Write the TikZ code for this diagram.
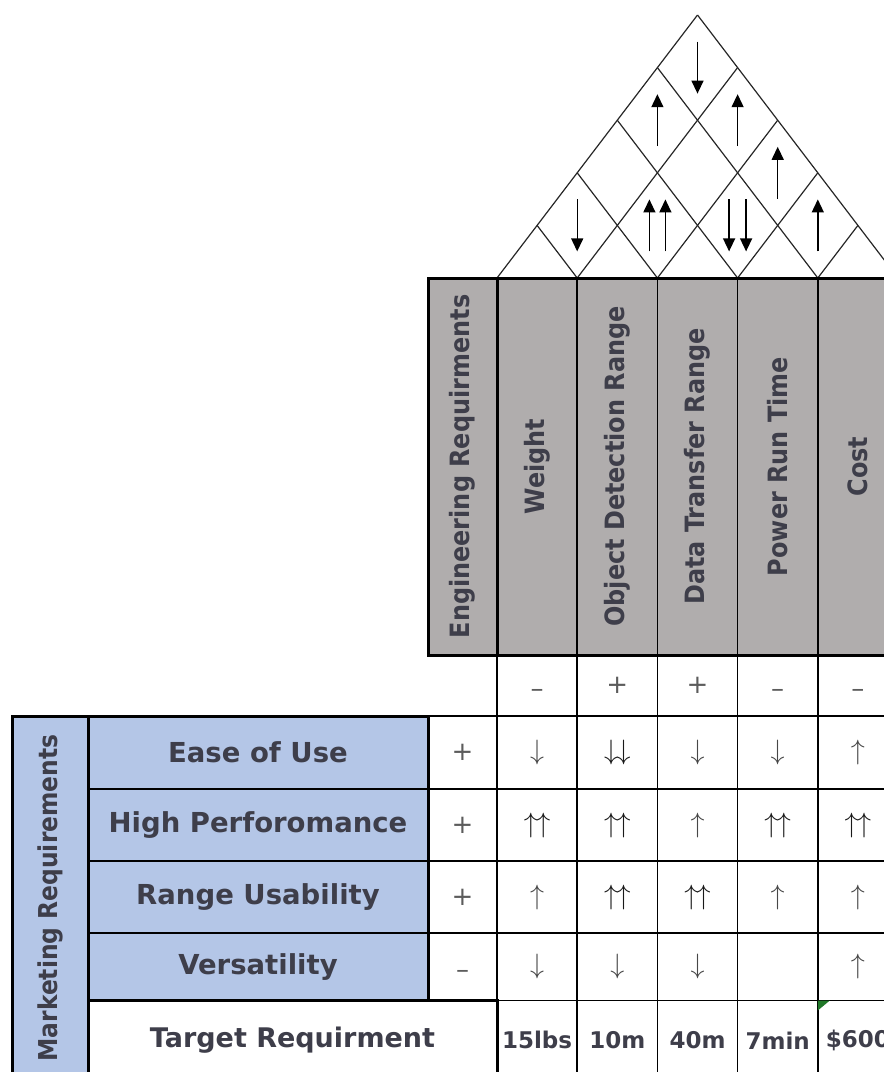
\documentclass[tikz,border=0pt]{standalone}
\usepackage{graphicx}
\usepackage{fontspec}
\setmainfont{DejaVu Sans}
\newfontfamily\narrowfont{DejaVu Sans}[FakeStretch=0.9]
\usetikzlibrary{arrows.meta}

\definecolor{hdrgray}{RGB}{176,173,173}
\definecolor{reqblue}{RGB}{180,198,231}
\definecolor{labelgray}{RGB}{62,62,74}
\definecolor{signgray}{RGB}{92,92,92}
\definecolor{notegreen}{RGB}{32,120,40}

\newcommand{\arU}{\textcolor{black!72}{\scalebox{2.8}{$\uparrow$}}}
\newcommand{\arD}{\textcolor{black!72}{\scalebox{2.8}{$\downarrow$}}}
\newcommand{\arUU}{\textcolor{black!90}{\scalebox{2.8}{$\uparrow\mkern-1mu\uparrow$}}}
\newcommand{\arDD}{\textcolor{black!90}{\scalebox{2.8}{$\downarrow\mkern-1mu\downarrow$}}}
\newcommand{\arNone}{}
\newcommand{\mns}{\smash{\raisebox{-12pt}{–}}}

\begin{document}
\begin{tikzpicture}[
	x=1pt,
	y=-1pt,
	roof/.style={
		draw=black!85,
		line width=1.2pt
	},
	roofarrow/.style={
		line width=1.4pt,
		-{Triangle[length=13pt,width=12pt]}
	},
	hdr/.style={
		rectangle,
		draw=black,
		line width=1.6pt,
		fill=hdrgray,
		inner sep=0pt,
		outer sep=0pt,
		minimum width=80.2pt,
		minimum height=377pt,
		text=labelgray,
		font=\narrowfont\bfseries\fontsize{26.6}{30}\selectfont
	},
	sgn/.style={
		rectangle,
		draw=black,
		line width=1.5pt,
		inner sep=0pt,
		outer sep=0pt,
		minimum width=80.2pt,
		minimum height=61pt,
		text=signgray,
		font=\fontsize{26}{30}\selectfont
	},
	reqname/.style={
		rectangle,
		draw=black,
		line width=1.5pt,
		fill=reqblue,
		inner sep=0pt,
		outer sep=0pt,
		minimum width=340pt,
		text=labelgray,
		font=\bfseries\fontsize{27.5}{32}\selectfont
	},
	imp/.style={
		rectangle,
		draw=black,
		line width=1.5pt,
		inner sep=0pt,
		outer sep=0pt,
		minimum width=69pt,
		text=signgray,
		font=\fontsize{26}{30}\selectfont
	},
	matcell/.style={
		rectangle,
		draw=black,
		line width=1.5pt,
		inner sep=0pt,
		outer sep=0pt,
		minimum width=80.2pt
	},
	mktcol/.style={
		rectangle,
		draw=black,
		line width=3pt,
		fill=reqblue,
		inner sep=0pt,
		outer sep=0pt,
		minimum width=76pt,
		minimum height=364pt,
		text=labelgray,
		font=\narrowfont\bfseries\fontsize{26}{30}\selectfont
	},
	tgtlabel/.style={
		rectangle,
		draw=black,
		line width=3pt,
		inner sep=0pt,
		outer sep=0pt,
		minimum width=409pt,
		minimum height=79.5pt,
		text=labelgray,
		font=\bfseries\fontsize{27}{32}\selectfont
	},
	tgtcell/.style={
		rectangle,
		draw=black,
		line width=1.5pt,
		inner sep=0pt,
		outer sep=0pt,
		minimum width=80.2pt,
		minimum height=79.5pt,
		text=labelgray,
		font=\bfseries\fontsize{23}{26}\selectfont
	},
	heavy/.style={
		draw=black,
		line width=3pt
	}
]

\useasboundingbox (0,0) rectangle (884,1072);
\clip (0,0) rectangle (884,1072);

\foreach \i in {0, ..., 5}
	\coordinate (base\i) at ({497+80.2*\i}, 278);

\foreach \i in {0, ..., 5} {
	\draw[roof] (base\i) -- ++({40.1*(5-\i)}, {-52.6*(5-\i)});
	\draw[roof] (base\i) -- ++({-40.1*\i}, {-52.6*\i});
}

\foreach \row/\pos/\dx/\way [count=\idx] in {1/1/0/-1, 1/2/-8/1, 1/2/8/1, 1/3/-8.5/-1, 1/3/8.5/-1, 1/4/0/1, 2/3.5/0/1, 3/2/0/1, 3/3/0/1, 4/2.5/0/-1} {
	\coordinate (tie\idx) at ({497+80.2*\pos+\dx}, {278-52.6*\row});
	\draw[roofarrow] (tie\idx) ++(0, {26*\way}) -- ++(0, {-52*\way});
}

\foreach \c/\hname in {1/Weight, 2/Object Detection Range, 3/Data Transfer Range, 4/Power Run Time, 5/Cost}
	\node[hdr] (hdr\c) at ({497+80.2*(\c-0.5)}, 466.5) {\rotatebox{90}{\hname}};

\node[hdr, minimum width=69pt, line width=3pt] (eng) at (462.5, 466.5) {\rotatebox{90}{Engineering Requirments}};
\draw[heavy] (eng.north west) rectangle (hdr5.south east);

\foreach \c/\sgnsym in {1/\mns, 2/+, 3/+, 4/\mns, 5/\mns}
	\node[sgn] (sgn\c) at ({497+80.2*(\c-0.5)}, 685.5) {\sgnsym};

\foreach \r/\yc/\h/\rname/\impsym/\syms in {
	0/752.5/73/Ease of Use/+/{\arD,\arDD,\arD,\arD,\arU},
	1/825/72/High Perforomance/+/{\arUU,\arUU,\arU,\arUU,\arUU},
	2/897/72/Range Usability/+/{\arU,\arUU,\arUU,\arU,\arU},
	3/966.75/67.5/Versatility/\mns/{\arD,\arD,\arD,\arNone,\arU}} {
	\node[reqname, minimum height=\h pt] (req\r) at (258, \yc) {\rname};
	\node[imp, minimum height=\h pt] (imp\r) at (462.5, \yc) {\impsym};
	\foreach \arrsym [count=\c] in \syms
		\node[matcell, minimum height=\h pt] (cell\r\c) at ({497+80.2*(\c-0.5)}, \yc) {\arrsym};
}

\draw[heavy] (req0.north west) rectangle (req3.south east);
\node[mktcol] (mkt) at (50, 898) {\rotatebox{90}{Marketing Requirements}};

\foreach \c/\val in {1/15lbs, 2/10m, 3/40m, 4/7min, 5/\$600}
	\node[tgtcell] (tgt\c) at ({497+80.2*(\c-0.5)}, 1040.25) {\val};

\node[tgtlabel] (tgt) at (292.5, 1040.25) {Target Requirment};
\fill[notegreen] (tgt5.north west) -- ++(12,0) -- ++(-12,10) -- cycle;

\end{tikzpicture}
\end{document}
